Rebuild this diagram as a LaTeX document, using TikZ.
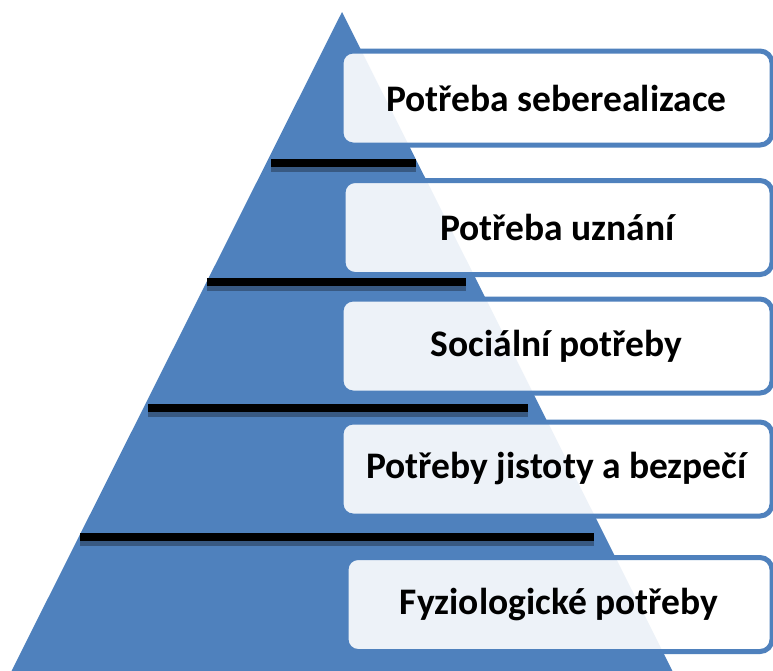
\documentclass[tikz,border=0pt]{standalone}
\usepackage{fontspec}
\setmainfont{Carlito}
\definecolor{pyrblue}{RGB}{79,129,189}
\definecolor{barshadow}{RGB}{56,89,130}
\tikzset{
  level/.style={draw=pyrblue, line width=5pt, rounded corners=12pt,
    fill=white, fill opacity=0.9, text opacity=1, inner sep=0pt,
    minimum height=94pt, font=\fontsize{37.5}{42}\selectfont\bfseries},
}
\begin{document}
\begin{tikzpicture}[x=1pt,y=-1pt]
  \useasboundingbox (0,0) rectangle (773,670);
  \clip (0,0) rectangle (773,670);
  \fill[white] (0,0) rectangle (773,670);
  %% pyramid
  \fill[pyrblue] (342,12) -- (675,676) -- (9,676) -- cycle;
  %% dividing bars
  \foreach \y/\xl/\xr in {162.5/271/416, 282/207/466, 408/148/528, 537/80/594} {
    \fill[barshadow] (\xl,\y+4) rectangle (\xr,\y+9);
    \fill[black] (\xl,\y-4) rectangle (\xr,\y+4);
  }
  %% levels
  \node[level, minimum width=431pt] (selfreal) at (556.5,98) {Potřeba seberealizace};
  \node[level, minimum width=429pt] (esteem) at (557.5,227.5) {Potřeba uznání};
  \node[level, minimum width=431pt] (social) at (556.5,346) {Sociální potřeby};
  \node[level, minimum width=431pt] (safety) at (556.5,469) {Potřeby jistoty a bezpečí};
  \node[level, minimum width=426pt] (physio) at (559,604.5) {Fyziologické potřeby};
\end{tikzpicture}
\end{document}
